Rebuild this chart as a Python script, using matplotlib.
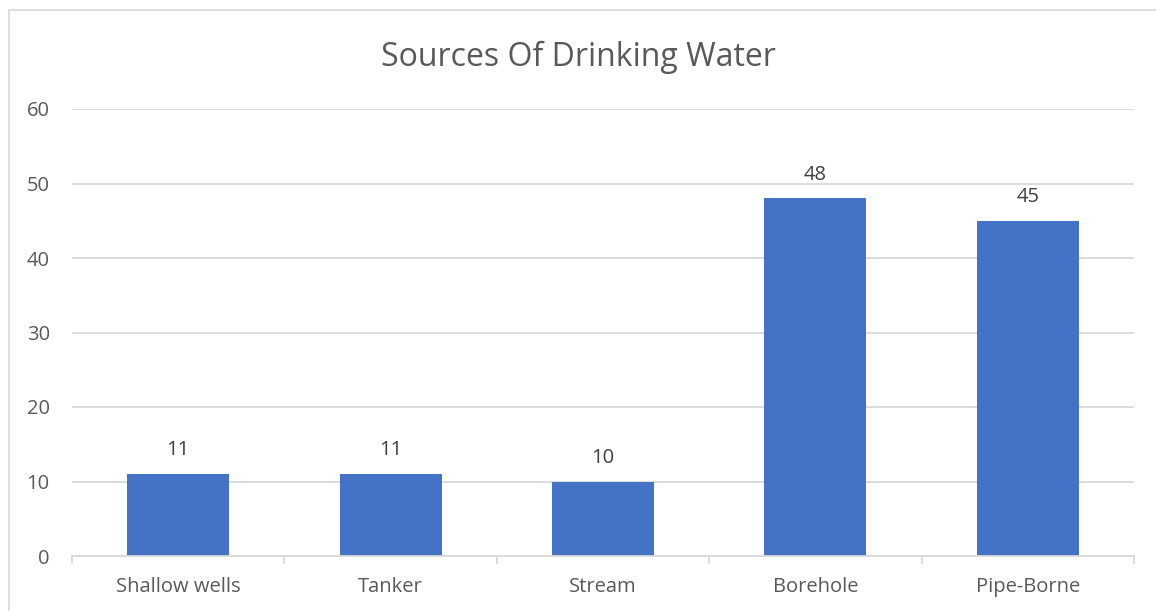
import matplotlib
matplotlib.use("Agg")
import matplotlib.pyplot as plt
from matplotlib.patches import Rectangle

categories = ["Shallow wells", "Tanker", "Stream", "Borehole", "Pipe-Borne"]
values = [11, 11, 10, 48, 45]
y_ticks = [0, 10, 20, 30, 40, 50, 60]

W, H = 1156, 611
DPI = 100
TEXT = "#595959"
GRID = "#D9D9D9"
BAR = "#4472C4"

plt.rcParams["font.family"] = ["Open Sans", "DejaVu Sans"]

fig = plt.figure(figsize=(W / DPI, H / DPI), dpi=DPI)
fig.patch.set_facecolor("white")

# chart frame (extends past the right and bottom edges)
fig.patches.append(Rectangle((9 / W, -0.1), 1.2, (H - 10) / H + 0.1,
                             transform=fig.transFigure, fill=False,
                             edgecolor=GRID, linewidth=1.2))

left, right, top, bottom = 72, 1134, 109, 556
ax = fig.add_axes([left / W, 1 - bottom / H, (right - left) / W, (bottom - top) / H])

x = list(range(len(categories)))
bars = ax.bar(x, values, width=0.48, color=BAR, zorder=3)

ax.set_xlim(-0.5, len(categories) - 0.5)
ax.set_ylim(0, 60)
ax.set_yticks(y_ticks)
ax.set_yticklabels([str(v) for v in y_ticks], fontsize=14.5, color=TEXT)
ax.set_xticks(x)
ax.set_xticklabels(categories, fontsize=14.5, color=TEXT)

ax.grid(axis="y", color=GRID, linewidth=1.3, zorder=0)
for s in ["top", "right", "left"]:
    ax.spines[s].set_visible(False)
ax.spines["bottom"].set_color(GRID)
ax.spines["bottom"].set_linewidth(1.3)
ax.spines["bottom"].set_zorder(4)

ax.tick_params(axis="y", length=0, pad=16)
ax.tick_params(axis="x", length=0, pad=15)

# category boundary tick marks
for b in [i - 0.5 for i in range(len(categories) + 1)]:
    ax.plot([b, b], [0, -1.0], color=GRID, linewidth=1.3, clip_on=False, zorder=4)

for xi, v in zip(x, values):
    ax.annotate(str(v), (xi, v), xytext=(0, 10), textcoords="offset points",
                ha="center", va="bottom", fontsize=14.5, color="#404040")

fig.text(0.5, 1 - 57 / H, "Sources Of Drinking Water", ha="center", va="center",
         fontsize=23, color=TEXT)

fig.savefig("out.png", dpi=DPI)
